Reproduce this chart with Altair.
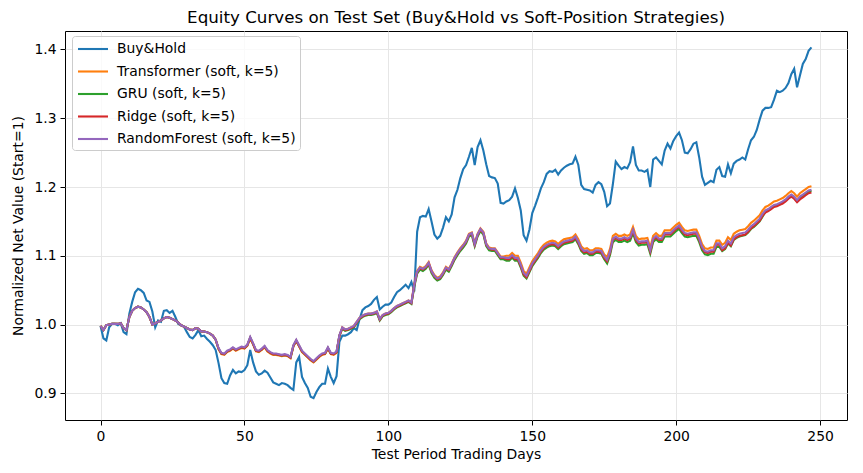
import altair as alt
import pandas as pd

days = list(range(248))

buy_hold = [
    0.998, 0.980, 0.977, 0.996, 1.001, 1.001, 0.999, 1.002, 0.989, 0.986,
    1.016, 1.033, 1.047, 1.052, 1.050, 1.046, 1.035, 1.033, 1.019, 0.996,
    1.006, 1.004, 1.020, 1.021, 1.017, 1.020, 1.011, 1.001, 0.999, 0.997,
    0.989, 0.982, 0.980, 0.985, 0.992, 0.983, 0.984, 0.979, 0.975, 0.970,
    0.963, 0.944, 0.922, 0.915, 0.914, 0.926, 0.934, 0.929, 0.932, 0.931,
    0.934, 0.941, 0.963, 0.945, 0.932, 0.927, 0.929, 0.933, 0.930, 0.923,
    0.916, 0.914, 0.912, 0.915, 0.914, 0.912, 0.908, 0.905, 0.945, 0.953,
    0.924, 0.915, 0.908, 0.895, 0.893, 0.902, 0.909, 0.914, 0.914, 0.936,
    0.924, 0.915, 0.925, 0.975, 0.984, 0.984, 0.986, 0.989, 0.995, 0.992,
    1.008, 1.021, 1.025, 1.027, 1.030, 1.036, 1.040, 1.022, 1.026, 1.029,
    1.029, 1.032, 1.040, 1.047, 1.050, 1.054, 1.058, 1.053, 1.062, 1.048,
    1.135, 1.156, 1.158, 1.157, 1.168, 1.150, 1.131, 1.125, 1.129, 1.141,
    1.156, 1.150, 1.160, 1.185, 1.196, 1.213, 1.226, 1.232, 1.244, 1.257,
    1.232, 1.258, 1.268, 1.253, 1.233, 1.216, 1.214, 1.213, 1.205, 1.177,
    1.176, 1.179, 1.181, 1.186, 1.198, 1.184, 1.166, 1.130, 1.122, 1.138,
    1.162, 1.173, 1.185, 1.198, 1.207, 1.219, 1.223, 1.222, 1.225, 1.218,
    1.224, 1.228, 1.231, 1.233, 1.234, 1.244, 1.232, 1.203, 1.197, 1.196,
    1.195, 1.192, 1.203, 1.207, 1.204, 1.193, 1.172, 1.176, 1.204, 1.237,
    1.231, 1.226, 1.229, 1.227, 1.236, 1.259, 1.232, 1.224, 1.224, 1.222,
    1.225, 1.200, 1.240, 1.243, 1.238, 1.233, 1.253, 1.263, 1.256, 1.267,
    1.274, 1.279, 1.268, 1.250, 1.249, 1.255, 1.263, 1.265, 1.243, 1.215,
    1.203, 1.206, 1.209, 1.207, 1.225, 1.229, 1.216, 1.215, 1.233, 1.220,
    1.234, 1.238, 1.240, 1.243, 1.240, 1.255, 1.268, 1.273, 1.283, 1.298,
    1.311, 1.315, 1.315, 1.316, 1.327, 1.340, 1.338, 1.340, 1.344, 1.351,
    1.364, 1.372, 1.345, 1.362, 1.379, 1.386, 1.398, 1.403,
]

transformer = [
    0.998, 0.992, 0.999, 1.000, 1.001, 1.001, 1.001, 1.002, 0.995, 0.992,
    1.011, 1.020, 1.024, 1.026, 1.025, 1.022, 1.018, 1.011, 1.000, 1.002,
    1.004, 1.006, 1.009, 1.011, 1.010, 1.008, 1.006, 1.003, 0.999, 0.997,
    0.995, 0.993, 0.992, 0.995, 0.994, 0.990, 0.990, 0.989, 0.987, 0.984,
    0.978, 0.964, 0.957, 0.956, 0.960, 0.962, 0.965, 0.962, 0.964, 0.966,
    0.965, 0.969, 0.980, 0.971, 0.961, 0.960, 0.963, 0.967, 0.961, 0.958,
    0.956, 0.956, 0.955, 0.954, 0.955, 0.954, 0.951, 0.968, 0.976, 0.968,
    0.960, 0.956, 0.952, 0.948, 0.945, 0.949, 0.953, 0.956, 0.957, 0.965,
    0.957, 0.956, 0.959, 0.983, 0.996, 0.993, 0.994, 0.996, 0.998, 1.004,
    1.010, 1.013, 1.015, 1.016, 1.016, 1.017, 1.019, 1.008, 1.014, 1.016,
    1.017, 1.020, 1.024, 1.027, 1.029, 1.031, 1.033, 1.035, 1.032, 1.059,
    1.078, 1.084, 1.082, 1.085, 1.091, 1.079, 1.072, 1.068, 1.070, 1.076,
    1.084, 1.081, 1.089, 1.098, 1.105, 1.111, 1.116, 1.122, 1.132, 1.134,
    1.118, 1.132, 1.140, 1.135, 1.118, 1.112, 1.111, 1.111, 1.105, 1.099,
    1.099, 1.100, 1.100, 1.104, 1.100, 1.100, 1.090, 1.078, 1.074, 1.083,
    1.092, 1.098, 1.104, 1.111, 1.116, 1.119, 1.121, 1.122, 1.121, 1.117,
    1.121, 1.124, 1.125, 1.126, 1.127, 1.131, 1.124, 1.114, 1.110, 1.111,
    1.108, 1.108, 1.111, 1.111, 1.110, 1.102, 1.098, 1.110, 1.129, 1.132,
    1.129, 1.129, 1.131, 1.129, 1.131, 1.142, 1.129, 1.124, 1.125, 1.125,
    1.126, 1.112, 1.129, 1.133, 1.129, 1.129, 1.137, 1.137, 1.137, 1.141,
    1.145, 1.148, 1.142, 1.137, 1.136, 1.137, 1.138, 1.138, 1.129, 1.117,
    1.111, 1.110, 1.112, 1.112, 1.122, 1.122, 1.116, 1.119, 1.127, 1.123,
    1.132, 1.135, 1.137, 1.138, 1.139, 1.143, 1.148, 1.151, 1.155, 1.159,
    1.166, 1.171, 1.173, 1.176, 1.179, 1.180, 1.182, 1.184, 1.187, 1.191,
    1.194, 1.191, 1.186, 1.191, 1.194, 1.197, 1.200, 1.201,
]

gru = [
    0.998, 0.992, 0.999, 1.000, 1.001, 1.001, 1.001, 1.002, 0.995, 0.992,
    1.011, 1.020, 1.024, 1.026, 1.025, 1.022, 1.018, 1.011, 1.000, 1.002,
    1.004, 1.006, 1.009, 1.011, 1.010, 1.008, 1.006, 1.003, 0.999, 0.997,
    0.995, 0.993, 0.992, 0.995, 0.994, 0.990, 0.990, 0.989, 0.987, 0.984,
    0.978, 0.965, 0.958, 0.957, 0.961, 0.963, 0.966, 0.963, 0.965, 0.967,
    0.966, 0.970, 0.981, 0.972, 0.962, 0.961, 0.964, 0.968, 0.962, 0.959,
    0.957, 0.957, 0.956, 0.955, 0.956, 0.955, 0.952, 0.969, 0.977, 0.969,
    0.961, 0.957, 0.953, 0.949, 0.946, 0.950, 0.954, 0.957, 0.958, 0.966,
    0.958, 0.957, 0.960, 0.984, 0.994, 0.991, 0.992, 0.994, 0.996, 1.002,
    1.008, 1.011, 1.013, 1.014, 1.014, 1.015, 1.017, 1.006, 1.012, 1.014,
    1.015, 1.018, 1.022, 1.025, 1.027, 1.029, 1.031, 1.033, 1.030, 1.055,
    1.074, 1.080, 1.078, 1.081, 1.087, 1.075, 1.068, 1.064, 1.066, 1.072,
    1.080, 1.077, 1.085, 1.094, 1.101, 1.107, 1.112, 1.118, 1.128, 1.130,
    1.114, 1.128, 1.136, 1.131, 1.114, 1.108, 1.107, 1.107, 1.101, 1.095,
    1.095, 1.093, 1.093, 1.097, 1.093, 1.093, 1.083, 1.071, 1.067, 1.076,
    1.085, 1.091, 1.097, 1.104, 1.109, 1.112, 1.114, 1.115, 1.114, 1.110,
    1.114, 1.117, 1.118, 1.119, 1.120, 1.124, 1.117, 1.107, 1.103, 1.104,
    1.101, 1.101, 1.104, 1.104, 1.103, 1.095, 1.089, 1.101, 1.120, 1.123,
    1.120, 1.120, 1.122, 1.120, 1.122, 1.133, 1.120, 1.115, 1.116, 1.116,
    1.117, 1.103, 1.120, 1.124, 1.120, 1.120, 1.128, 1.128, 1.128, 1.132,
    1.136, 1.139, 1.133, 1.128, 1.127, 1.128, 1.129, 1.129, 1.120, 1.108,
    1.102, 1.101, 1.103, 1.103, 1.113, 1.113, 1.107, 1.110, 1.118, 1.114,
    1.123, 1.126, 1.128, 1.129, 1.130, 1.134, 1.139, 1.142, 1.146, 1.150,
    1.157, 1.164, 1.166, 1.169, 1.172, 1.173, 1.175, 1.177, 1.180, 1.184,
    1.187, 1.184, 1.179, 1.184, 1.187, 1.190, 1.193, 1.195,
]

ridge = [
    0.998, 0.992, 0.999, 1.000, 1.001, 1.001, 1.001, 1.002, 0.995, 0.992,
    1.011, 1.020, 1.024, 1.026, 1.025, 1.022, 1.018, 1.011, 1.000, 1.002,
    1.004, 1.006, 1.009, 1.011, 1.010, 1.008, 1.006, 1.003, 0.999, 0.997,
    0.995, 0.993, 0.992, 0.995, 0.994, 0.990, 0.990, 0.989, 0.987, 0.984,
    0.978, 0.965, 0.958, 0.957, 0.961, 0.963, 0.966, 0.963, 0.965, 0.967,
    0.966, 0.970, 0.981, 0.972, 0.962, 0.961, 0.964, 0.968, 0.962, 0.959,
    0.957, 0.957, 0.956, 0.955, 0.956, 0.955, 0.952, 0.969, 0.977, 0.969,
    0.961, 0.957, 0.953, 0.949, 0.946, 0.950, 0.954, 0.957, 0.958, 0.966,
    0.958, 0.957, 0.960, 0.984, 0.995, 0.992, 0.993, 0.995, 0.997, 1.003,
    1.009, 1.012, 1.014, 1.015, 1.015, 1.016, 1.018, 1.007, 1.013, 1.015,
    1.016, 1.019, 1.023, 1.026, 1.028, 1.030, 1.032, 1.034, 1.031, 1.057,
    1.076, 1.082, 1.080, 1.083, 1.089, 1.077, 1.070, 1.066, 1.068, 1.074,
    1.082, 1.079, 1.087, 1.096, 1.103, 1.109, 1.114, 1.120, 1.130, 1.132,
    1.116, 1.130, 1.138, 1.133, 1.116, 1.110, 1.109, 1.109, 1.103, 1.097,
    1.097, 1.095, 1.095, 1.099, 1.095, 1.095, 1.085, 1.073, 1.069, 1.078,
    1.087, 1.093, 1.099, 1.106, 1.111, 1.114, 1.116, 1.117, 1.116, 1.112,
    1.116, 1.119, 1.120, 1.121, 1.122, 1.126, 1.119, 1.109, 1.105, 1.106,
    1.103, 1.103, 1.106, 1.106, 1.105, 1.097, 1.092, 1.104, 1.123, 1.126,
    1.123, 1.123, 1.125, 1.123, 1.125, 1.136, 1.123, 1.118, 1.119, 1.119,
    1.120, 1.106, 1.123, 1.127, 1.123, 1.123, 1.131, 1.131, 1.131, 1.135,
    1.139, 1.142, 1.136, 1.131, 1.130, 1.131, 1.132, 1.132, 1.123, 1.111,
    1.105, 1.104, 1.106, 1.106, 1.116, 1.116, 1.108, 1.111, 1.119, 1.115,
    1.124, 1.127, 1.129, 1.130, 1.131, 1.135, 1.140, 1.143, 1.147, 1.151,
    1.158, 1.163, 1.165, 1.168, 1.171, 1.172, 1.174, 1.176, 1.179, 1.183,
    1.186, 1.183, 1.178, 1.182, 1.185, 1.188, 1.191, 1.192,
]

random_forest = [
    0.998, 0.992, 0.999, 1.000, 1.001, 1.001, 1.001, 1.002, 0.995, 0.992,
    1.011, 1.020, 1.024, 1.026, 1.025, 1.022, 1.018, 1.011, 1.000, 1.002,
    1.004, 1.006, 1.009, 1.011, 1.010, 1.008, 1.006, 1.003, 0.999, 0.997,
    0.995, 0.993, 0.992, 0.995, 0.994, 0.990, 0.990, 0.989, 0.987, 0.984,
    0.978, 0.966, 0.959, 0.958, 0.962, 0.964, 0.967, 0.964, 0.966, 0.968,
    0.967, 0.971, 0.982, 0.973, 0.963, 0.962, 0.965, 0.969, 0.963, 0.960,
    0.958, 0.958, 0.957, 0.956, 0.957, 0.956, 0.953, 0.970, 0.978, 0.970,
    0.962, 0.958, 0.954, 0.950, 0.947, 0.951, 0.955, 0.958, 0.959, 0.967,
    0.959, 0.958, 0.961, 0.985, 0.996, 0.993, 0.994, 0.996, 0.998, 1.004,
    1.010, 1.013, 1.015, 1.016, 1.016, 1.017, 1.019, 1.008, 1.014, 1.016,
    1.017, 1.020, 1.024, 1.027, 1.029, 1.031, 1.033, 1.035, 1.032, 1.058,
    1.077, 1.083, 1.081, 1.084, 1.090, 1.078, 1.071, 1.067, 1.069, 1.075,
    1.083, 1.080, 1.088, 1.097, 1.104, 1.110, 1.115, 1.121, 1.131, 1.133,
    1.117, 1.131, 1.139, 1.134, 1.117, 1.111, 1.110, 1.110, 1.104, 1.098,
    1.098, 1.097, 1.097, 1.101, 1.097, 1.097, 1.087, 1.075, 1.071, 1.080,
    1.089, 1.095, 1.101, 1.108, 1.113, 1.116, 1.118, 1.119, 1.118, 1.114,
    1.118, 1.121, 1.122, 1.123, 1.124, 1.128, 1.121, 1.111, 1.107, 1.108,
    1.105, 1.105, 1.108, 1.108, 1.107, 1.099, 1.094, 1.106, 1.125, 1.128,
    1.125, 1.125, 1.127, 1.125, 1.127, 1.138, 1.125, 1.120, 1.121, 1.121,
    1.122, 1.108, 1.125, 1.129, 1.125, 1.125, 1.133, 1.133, 1.133, 1.137,
    1.141, 1.144, 1.138, 1.133, 1.132, 1.133, 1.134, 1.134, 1.125, 1.113,
    1.107, 1.106, 1.108, 1.108, 1.118, 1.118, 1.111, 1.114, 1.122, 1.118,
    1.127, 1.130, 1.132, 1.133, 1.134, 1.138, 1.143, 1.146, 1.150, 1.154,
    1.161, 1.166, 1.168, 1.171, 1.174, 1.175, 1.177, 1.179, 1.182, 1.186,
    1.189, 1.186, 1.181, 1.186, 1.189, 1.192, 1.195, 1.196,
]

series_names = [
    "Buy&Hold",
    "Transformer (soft, k=5)",
    "GRU (soft, k=5)",
    "Ridge (soft, k=5)",
    "RandomForest (soft, k=5)",
]
series_colors = ["#1f77b4", "#ff7f0e", "#2ca02c", "#d62728", "#9467bd"]
series_values = [buy_hold, transformer, gru, ridge, random_forest]

x_ticks = [0, 50, 100, 150, 200, 250]
y_ticks = [0.9, 1.0, 1.1, 1.2, 1.3, 1.4]

frames = []
for name, vals in zip(series_names, series_values):
    frames.append(pd.DataFrame({"day": days, "value": vals, "series": name}))
df = pd.concat(frames, ignore_index=True)

FONT = "DejaVu Sans"
FS = 13.9

axis_style = dict(
    grid=True,
    gridColor="#e6e6e6",
    gridWidth=1,
    domain=False,
    tickSize=5,
    tickColor="black",
    tickWidth=1,
    labelFont=FONT,
    labelFontSize=FS,
    labelColor="black",
    labelPadding=4,
    titleFont=FONT,
    titleFontSize=FS,
    titleFontWeight="normal",
    titleColor="black",
)

x_enc = alt.X(
    "day:Q",
    scale=alt.Scale(domain=[-12.35, 259.35], nice=False, zero=False),
    axis=alt.Axis(
        values=x_ticks,
        title="Test Period Trading Days",
        format="d",
        titlePadding=5,
        **axis_style,
    ),
)
y_enc = alt.Y(
    "value:Q",
    scale=alt.Scale(domain=[0.8613, 1.4268], nice=False, zero=False),
    axis=alt.Axis(
        values=y_ticks,
        title="Normalized Net Value (Start=1)",
        format=".1f",
        titlePadding=8,
        **axis_style,
    ),
)
color_enc = alt.Color(
    "series:N",
    scale=alt.Scale(domain=series_names, range=series_colors),
    legend=alt.Legend(
        title=None,
        orient="none",
        legendX=7,
        legendY=5,
        symbolType="M-2,0L2,0",
        symbolSize=225,
        symbolStrokeWidth=2.1,
        symbolOffset=8,
        labelFont=FONT,
        labelFontSize=FS,
        labelColor="black",
        labelLimit=400,
        labelOffset=15,
        padding=4,
        rowPadding=6.5,
        fillColor="rgba(255,255,255,0.8)",
        strokeColor="#cccccc",
        cornerRadius=3,
    ),
)

layers = []
for name in series_names:
    layers.append(
        alt.Chart(df)
        .transform_filter(alt.datum.series == name)
        .mark_line(strokeWidth=2.1)
        .encode(x=x_enc, y=y_enc, color=color_enc)
    )

chart = (
    alt.layer(*layers)
    .properties(
        width=782,
        height=389,
        background="white",
        title=alt.TitleParams(
            "Equity Curves on Test Set (Buy&Hold vs Soft-Position Strategies)",
            font=FONT,
            fontSize=16.7,
            fontWeight="normal",
            color="black",
            anchor="middle",
            frame="group",
            offset=4,
        ),
        autosize=alt.AutoSizeParams(type="none"),
        padding={"left": 57, "top": 23, "right": 8, "bottom": 50},
    )
    .configure_view(stroke="black", strokeWidth=1)
)

chart.save("out.html", embed_options={"renderer": "svg", "actions": False})
